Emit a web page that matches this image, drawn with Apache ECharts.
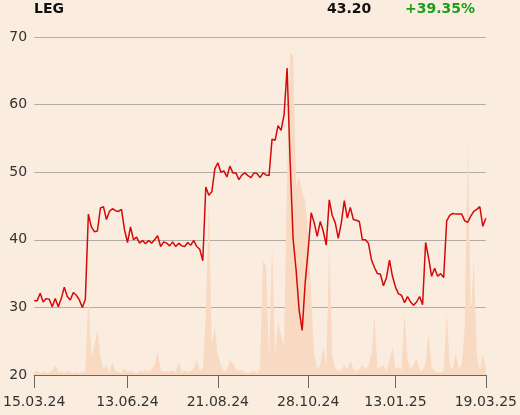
<!DOCTYPE html>
<html>
<head>
<meta charset="utf-8">
<script src="https://cdn.jsdelivr.net/npm/echarts@6/dist/echarts.min.js"></script>
<style>
html,body{margin:0;padding:0;background:#fbece0;}
#chart{width:520px;height:415px;}
</style>
</head>
<body>
<div id="chart"></div>
<script>
// Kurs LEG, Handelstage 15.03.24 - 19.03.25
var price = [
  31.0, 31.0, 32.1, 30.8, 31.3, 31.2, 30.1, 31.3, 30.1, 31.3,
  33.0, 31.6, 31.1, 32.2, 31.8, 31.1, 30.0, 31.2, 43.8, 41.9,
  41.2, 41.3, 44.7, 44.9, 43.0, 44.2, 44.6, 44.3, 44.2, 44.5,
  41.5, 39.6, 41.9, 40.0, 40.4, 39.5, 39.9, 39.4, 39.9, 39.5,
  40.0, 40.6, 39.0, 39.7, 39.5, 39.1, 39.7, 39.0, 39.5, 39.1,
  39.0, 39.6, 39.2, 39.9, 39.0, 38.6, 36.9, 47.8, 46.6, 47.1,
  50.5, 51.4, 50.0, 50.2, 49.3, 50.9, 49.9, 49.9, 48.9, 49.6,
  49.9, 49.5, 49.2, 49.9, 49.8, 49.2, 49.9, 49.6, 49.5, 54.9,
  54.7, 56.9, 56.2, 58.5, 65.4, 51.7, 40.1, 35.5, 29.6, 26.6,
  33.6, 38.5, 44.0, 42.5, 40.5, 42.7, 41.3, 39.2, 45.9, 43.6,
  42.5, 40.2, 42.5, 45.8, 43.2, 44.8, 43.0, 42.9, 42.7, 40.0,
  40.0, 39.5, 37.1, 35.9, 35.0, 34.9, 33.2, 34.4, 37.0, 34.6,
  33.0, 32.0, 31.8, 30.7, 31.6, 30.8, 30.3, 30.8, 31.6, 30.4,
  39.6, 37.3, 34.6, 35.8, 34.6, 35.0, 34.4, 42.8, 43.6, 43.9,
  43.8, 43.8, 43.8, 42.8, 42.6, 43.5, 44.2, 44.5, 44.9, 42.0, 43.2
];
// Umsatz (relative Einheiten)
var volume = [
  3, 4, 2, 4, 2, 3, 4, 10, 3, 4,
  2, 5, 3, 2, 3, 2, 3, 4, 78, 18,
  30, 45, 18, 6, 10, 3, 13, 4, 3, 2,
  7, 3, 4, 3, 2, 4, 3, 5, 3, 6,
  10, 23, 5, 3, 4, 3, 5, 3, 13, 3,
  5, 3, 4, 6, 15, 4, 6, 60, 172, 30,
  48, 20, 10, 4, 5, 15, 12, 6, 4, 5,
  3, 2, 3, 4, 2, 5, 115, 108, 15, 132,
  20, 53, 40, 28, 200, 322, 320, 190, 198, 182,
  175, 140, 80, 20, 6, 10, 28, 8, 132, 20,
  6, 4, 5, 10, 5, 15, 6, 4, 6, 10,
  5, 10, 20, 60, 6, 8, 10, 4, 15, 28,
  6, 8, 5, 63, 15, 6, 10, 17, 5, 4,
  12, 43, 8, 4, 3, 3, 4, 63, 10, 5,
  22, 6, 10, 48, 233, 60, 115, 20, 5, 20, 8
];
var tickIdx = [0, 31, 61, 91, 120, 150];
var tickLabels = ['15.03.24', '13.06.24', '21.08.24', '28.10.24', '13.01.25', '19.03.25'];
var yTicks = [20, 30, 40, 50, 60, 70];

var title = 'LEG';
var lastPrice = '43.20';
var change = '+39.35%';

var priceData = price.map(function (v, i) { return [i, v]; });
var volData = volume.map(function (v, i) { return [i, v]; });

var chart = echarts.init(document.getElementById('chart'));
chart.setOption({
  backgroundColor: '#fbece0',
  animation: false,
  textStyle: { fontFamily: 'DejaVu Sans' },
  grid: { left: 34, right: 34, top: 37, bottom: 40 },
  graphic: [
    { type: 'text', left: 34, top: 2,
      style: { text: title, font: 'bold 14px DejaVu Sans', fill: '#111' } },
    { type: 'text', left: 327, top: 2,
      style: { text: lastPrice, font: 'bold 14px DejaVu Sans', fill: '#111' } },
    { type: 'text', left: 405, top: 2,
      style: { text: change, font: 'bold 14px DejaVu Sans', fill: '#1a9e1a' } }
  ],
  xAxis: {
    type: 'value',
    min: 0,
    max: price.length - 1,
    axisLine: { show: true, lineStyle: { color: '#666', width: 1 } },
    axisTick: { show: true, customValues: tickIdx, length: 13, lineStyle: { color: '#666' } },
    axisLabel: {
      customValues: tickIdx,
      margin: 20,
      fontSize: 14,
      color: '#333',
      formatter: function (v) {
        var k = tickIdx.indexOf(v);
        return k >= 0 ? tickLabels[k] : '';
      }
    },
    splitLine: { show: false }
  },
  yAxis: [
    {
      type: 'value',
      min: yTicks[0],
      max: yTicks[yTicks.length - 1],
      interval: 10,
      position: 'left',
      axisLine: { show: false },
      axisTick: { show: false },
      axisLabel: { fontSize: 14, color: '#333', margin: 7 },
      splitLine: { lineStyle: { color: '#b3aca6', width: 1 } }
    },
    {
      type: 'value',
      min: 0,
      max: 338,
      show: false,
      splitLine: { show: false }
    }
  ],
  series: [
    {
      name: 'Umsatz',
      type: 'line',
      yAxisIndex: 1,
      data: volData,
      symbol: 'none',
      lineStyle: { width: 0 },
      areaStyle: { color: '#f8d9c2', opacity: 1 },
      z: 1
    },
    {
      name: 'Kurs',
      type: 'line',
      data: priceData,
      symbol: 'none',
      lineStyle: { color: '#d40a0a', width: 1.5 },
      z: 3
    }
  ]
});
</script>
</body>
</html>
